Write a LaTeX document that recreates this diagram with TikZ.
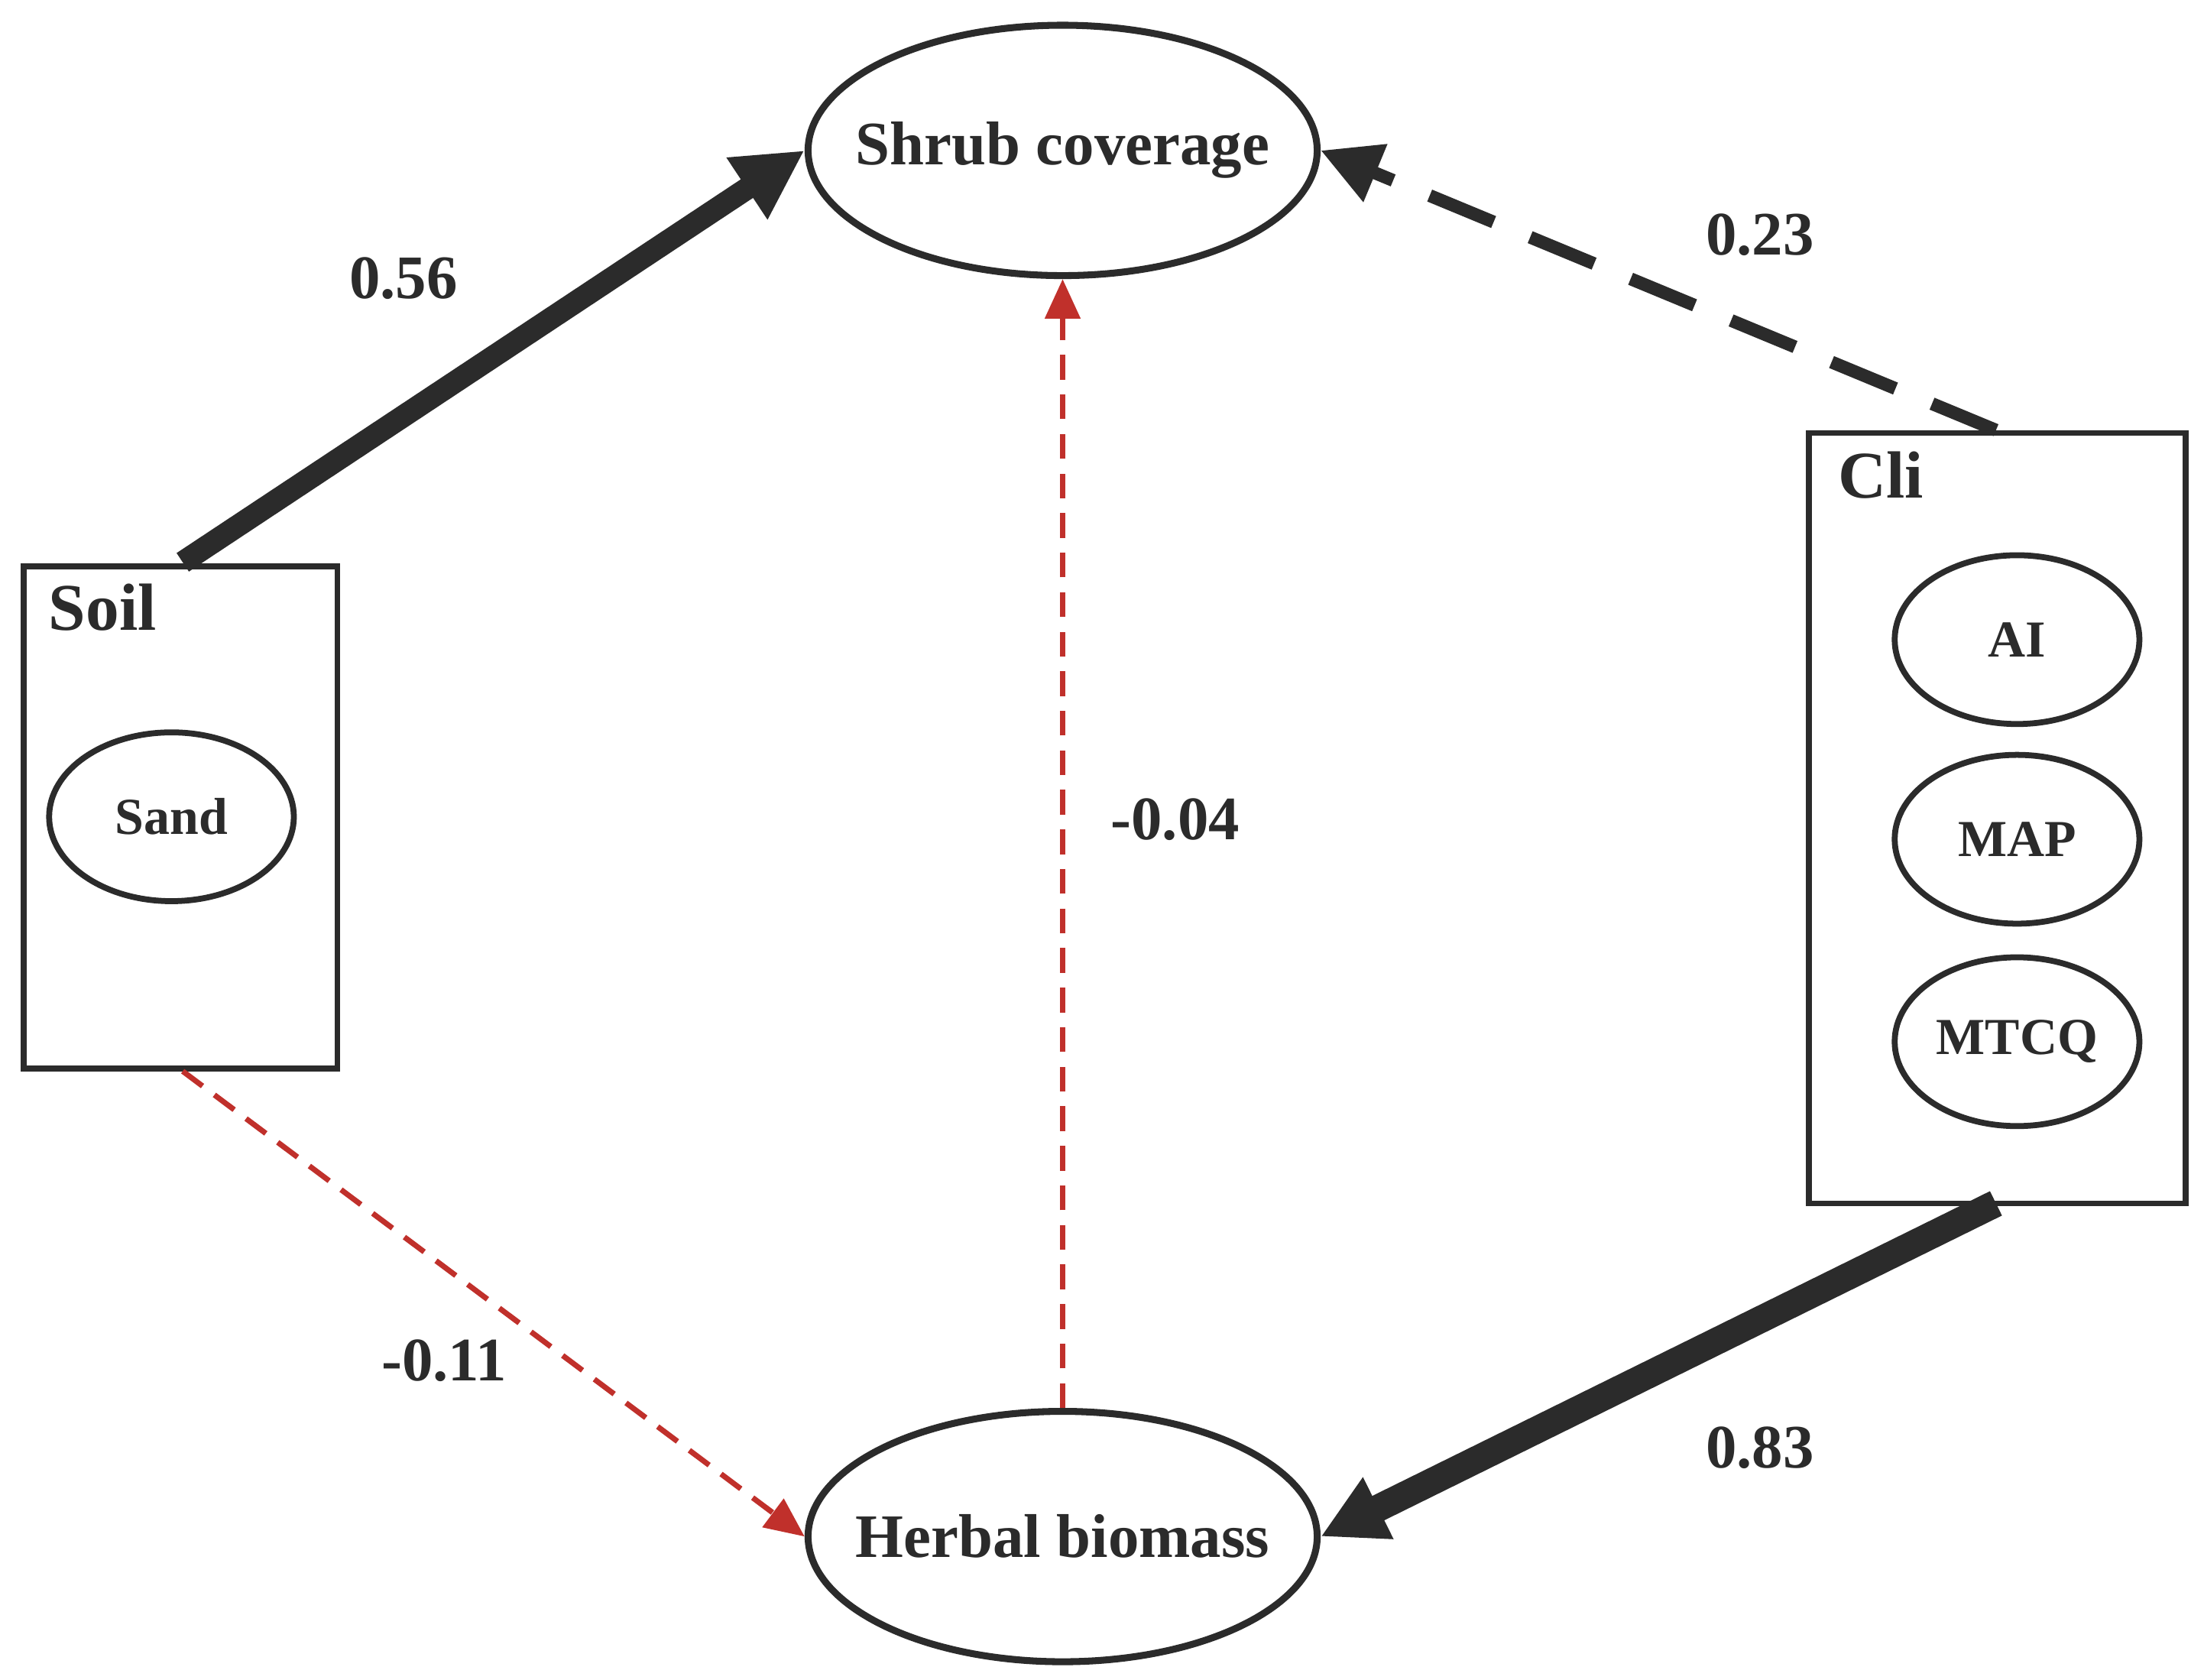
\documentclass[tikz,border=0pt]{standalone}
\usepackage{fontspec}
\setmainfont{Liberation Serif}
\usetikzlibrary{arrows.meta,shapes.geometric}
\definecolor{dk}{HTML}{2B2B2B}
\definecolor{rd}{HTML}{C0302B}
\begin{document}
\begin{tikzpicture}[x=0.01cm,y=-0.01cm,
  big/.style={ellipse,draw=dk,line width=1.4pt,minimum width=3.62cm,minimum height=1.78cm,font=\fontsize{12.5}{15}\bfseries\selectfont,text=dk,inner xsep=-1cm,inner ysep=-0.3cm},
  sm/.style={ellipse,draw=dk,line width=1.2pt,minimum width=1.74cm,minimum height=1.2cm,font=\fontsize{10.5}{13}\bfseries\selectfont,text=dk,inner xsep=-0.4cm,inner ysep=-0.2cm},
  box/.style={draw=dk,line width=1.2pt},
  lab/.style={font=\fontsize{12.5}{15}\bfseries\selectfont,text=dk},
  blk/.style={draw=dk,-{Triangle[length=14pt,width=14pt]}},
  red/.style={draw=rd,line width=1.1pt,dash pattern=on 5pt off 3pt,-{Triangle[length=8pt,width=7pt]}}]
\useasboundingbox (0,0) rectangle (1568,1195);
\node[big] (shrub) at (756,107) {Shrub coverage};
\node[big] (herb) at (756,1093) {Herbal biomass};
\draw[box] (17,403) rectangle (240,760);
\node[lab,font=\fontsize{13.5}{16}\bfseries\selectfont] (soilT) at (73,432) {Soil};
\node[sm] (sand) at (122,581) {Sand};
\draw[box] (1287,308) rectangle (1555,856);
\node[lab,font=\fontsize{13.5}{16}\bfseries\selectfont] (cliT) at (1338,338) {Cli};
\node[sm] (ai) at (1435,455) {AI};
\node[sm] (map) at (1435,597) {MAP};
\node[sm] (mtcq) at (1435,741) {MTCQ};
\coordinate (soilTop) at (130,400);
\coordinate (soilBot) at (130,762);
\coordinate (cliTop) at (1420,306);
\coordinate (cliBot) at (1420,856);
\draw[blk,line width=4.5pt] (soilTop) -- (shrub.west);
\draw[blk,line width=2.6pt,dash pattern=on 14pt off 8pt,-{Triangle[length=12pt,width=12pt]}] (cliTop) -- (shrub.east);
\draw[blk,line width=5.5pt,-{Triangle[length=13pt,width=13pt]}] (cliBot) -- (herb.east);
\draw[red] (soilBot) -- (herb.west);
\draw[red] (herb.north) -- (shrub.south);
\node[lab] (l1) at (287,198) {0.56};
\node[lab] (l2) at (1252,167) {0.23};
\node[lab] (l3) at (1252,1030) {0.83};
\node[lab] (l4) at (316,968) {-0.11};
\node[lab] (l5) at (836,583) {-0.04};
\end{tikzpicture}
\end{document}
